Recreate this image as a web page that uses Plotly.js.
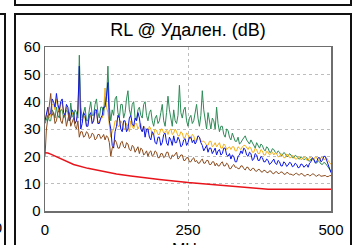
<!DOCTYPE html>
<html>
<head>
<meta charset="utf-8">
<script src="https://cdn.plot.ly/plotly-3.0.1.min.js"></script>
<style>
html,body{margin:0;padding:0;background:#fff;width:355px;height:245px;overflow:hidden;}
#chart{position:absolute;left:0;top:0;width:355px;height:245px;}
.frame{position:absolute;box-sizing:border-box;border:2px solid #111;pointer-events:none;z-index:5;}
</style>
</head>
<body>
<div id="chart"></div>
<div class="frame" style="left:-10px;top:13px;width:16px;height:300px;"></div>
<div class="frame" style="left:14px;top:-20px;width:338px;height:26px;"></div>
<div class="frame" style="left:14px;top:13px;width:338px;height:300px;"></div>
<script>
// Frequency sampling grid (MHz)
const freqStart = 0, freqStep = 2.5, freqCount = 201;
const freq = Array.from({length: freqCount}, (_, i) => freqStart + i * freqStep);

const limitFreq = [0, 5, 10, 20, 35, 50, 75, 100, 125, 150, 175, 200, 250, 300, 350, 390, 450, 500];
const limitRL   = [21.3, 21.2, 20.8, 19.8, 18.3, 17.0, 15.6, 14.5, 13.5, 12.8, 12.1, 11.5, 10.4, 9.5, 8.7, 8.0, 8.0, 8.0];

const brown = [
  20,30,34,38,43,35,36,32,33,36,
  37,33,32,35,35,31,33,36,31,33,
  34,31,30,33,27,29,29,27,27.5,29,
  28.5,26.5,27,28.5,28,26,26.5,28,28,26.5,
  27,28,26,27.5,27,25,20,23,24,26,
  25,23,23,25,25.5,23.5,23,25,24.5,22.5,
  22,24,23.5,21.5,22.5,23.5,21,23,22.5,20.5,
  21,22,20,21.5,22,20,20.5,22,21.5,19.5,
  19.5,21,21,19.5,20,21.5,21.5,19.5,19,20.5,
  20,21,21.5,19,19.5,20.5,20.5,18.5,18.5,19.5,
  19.5,18,18,19,19.5,18,18.5,17.5,17.5,18.5,
  19,17.5,17.5,18.5,18.5,17,17,18,18,16.5,
  17.5,16.5,16.5,17.5,18,16.5,16.5,17.5,17,15.5,
  15.5,16.5,17,16,16,15.5,15.5,16.5,16.5,15.5,
  15,16,16,15,14.8,15.6,15.6,14.7,14.5,15.2,
  15.2,14.4,14.2,14.9,14.8,14.1,14,14.7,14.6,13.8,
  13.6,14.3,14.4,13.7,13.8,14.3,14.2,13.5,13.4,14.1,
  14,13.4,13.5,13.2,13.1,13.7,13.8,13.3,13.2,13.7,
  13.6,12.9,12.8,13.3,13.4,12.9,13,13.6,13.5,12.9,
  12.7,13.2,13.2,12.7,12.8,13.1,13,12.6,12.6,12.9,
  13];

const blue = [
  33,36,38,35,36,41,40,38,43,39,
  37,40,41,36,35,39,38,33,34,37,
  36,32,33,37,53,30,32,36,35,31,
  31,35,36,32,33,37,37,32,32,34,
  35,38,38,42,47,33,30,24,23,29,
  31,35,34,30,29,33,33,29,30,34,
  35,32,31,34,33,36,34,30,29,31,
  27,30,30,27,26,29,28,25,24.5,27,
  27,24,25,28,28.5,25,24,27,26,24,
  27.5,25,25,27,26,23.5,24,26,26.5,24,
  25,27,27,25,26,24.5,25.5,27.5,27,25,
  24,22,23,24,21.5,23,23,21,22,23,
  20.5,22,22.5,20.5,21,23,23,20.5,20,21,
  19,20.5,20,18,18,20,20.5,22,21,23,
  22.5,20.5,20,21.5,21,18.5,19,21,20.5,18.5,
  18.5,20,19.5,18,18,19,18.5,17,17.5,18.5,
  19,17.5,17,18.5,18,16.5,16.5,18,17.5,16.3,
  16.8,17.8,17.5,16.2,16.5,17.5,17,15.8,16,17.2,
  17,16,16.5,17,16,17.5,18,19.5,19,17.5,
  18,19.5,19.5,18,18.5,20,20,18.5,17,16,
  14];

const orange = [
  33,35,37,34,35,39,39,37,41,38,
  36,39,40,35,35,38,37,33,34,36,
  35,32,33,36,50,34,33,35,34,31,
  32,34,35,32,33,36,36,32,33,34,
  34,37,45,38,36,30,27,29,30,33,
  33,31,31,33,32,30,30,32,31,29,
  33,31,30,32,32,30,31,32,29,31,
  30.5,29,29,31,30,28,28,30,29.5,28,
  28,30,30,28.5,29,29.5,28,29.5,30,28,
  28.5,30,29,27.5,27.5,29,28.5,26.5,27,28.5,
  28,26.5,26.5,28,27.5,25.5,26,27.5,27,25.5,
  25.5,25.5,25,24,24,25.5,25.5,23.5,24,25,
  23.5,24.5,25,23,23,24.5,24,22.5,23,23.5,
  22.5,23.5,23.5,22,22,23.5,23,22.5,23.5,24,
  24,23,22.5,23.5,23,21.5,21.5,23,22.5,21,
  21,22.5,22,20.5,20.5,21.8,21.5,20.5,21,21.5,
  20.5,21.3,21,19.8,20,21,20.5,19.5,19.5,20.8,
  20.5,19.5,19.5,20.3,20,19,19,19.8,19.5,18.8,
  19,19.8,19.5,18.6,18.5,19.6,19.5,18.7,19,19.8,
  19.5,18.6,18.5,19.6,19.5,18.8,19,19.4,18.5,17.8,
  17];

const green = [
  32,34,35,33,33,37,36,34,38,35,
  34,37,37,34,35,37,36,33,39.5,35,
  34,37,36,34,57,38,34,36,38,33,
  33,37,40,35,35,39,41,36,34,38,
  38,35,42,40,53,38,33,37,35,41,
  42,36,34,39,39,34,36,41,44,37,
  35,39,40,34,33,37,38,35,34,39,
  40,35,33,36,37,33,31,34,35,32,
  33,36,39,33,31,36,42,37,34,31,
  37,33,32,35,46,36,34,37,38,33,
  31,34,35,32,33,37,39,34,31,35,
  44,37,33,30,36,32,30,34,33,30,
  38,32,29,31,31,28,27,30,29.5,27,
  26,28.5,27,25.5,25.5,27,24.5,25,26,27,
  27.5,26,25,24.5,26,25,24,23,25,24,
  23,24.5,24,22.5,22,23.5,23,21.5,21.5,22.8,
  22.5,21.5,21,22,21.5,20.3,20.5,21.4,21,20,
  20,21,20.5,19.5,19.5,20.4,20,19.2,19,19.9,
  19.5,18.8,19,19.6,18.5,18.2,19,19.2,18.5,18,
  17.5,18.4,18,17.2,17,17.8,17.5,16.8,16,15.2,
  14.5];

const xTitle = 'MHz';
const font = 'Arial, "Liberation Sans", sans-serif';
const mk = (y, color, w) => ({x: freq, y: y, type: 'scatter', mode: 'lines',
  line: {color: color, width: w || 1}, hoverinfo: 'skip'});

const data = [
  {x: limitFreq, y: limitRL, type: 'scatter', mode: 'lines', line: {color: '#e8141b', width: 1.5}},
  mk(green, '#2e8b57'),
  mk(orange, '#f5b014'),
  mk(blue, '#0a14e6'),
  mk(brown, '#8b4a1c')
];

const layout = {
  width: 355, height: 245,
  margin: {l: 45, r: 24, t: 47, b: 34, pad: 0},
  paper_bgcolor: '#fff', plot_bgcolor: '#fff',
  showlegend: false,
  font: {family: font, size: 15, color: '#000'},
  title: {text: 'RL @ Удален. (dB)', font: {family: font, size: 18, color: '#000'},
          x: 0.5, xref: 'paper', xanchor: 'center', y: 1 - 30/245, yref: 'container', yanchor: 'middle'},
  xaxis: {range: [0, 500], tickvals: [0, 250, 500], ticktext: ['0', '250', '500'],
          showgrid: true, gridcolor: '#bdbdbd', griddash: 'dot', gridwidth: 1,
          zeroline: false, showline: true, linecolor: '#6e6e6e', linewidth: 1.5, mirror: true,
          ticks: '', ticklabelstandoff: 4, tickfont: {family: font, size: 15, color: '#000'}},
  yaxis: {range: [0, 60], tickvals: [0, 10, 20, 30, 40, 50, 60],
          showgrid: true, gridcolor: '#bdbdbd', griddash: 'dot', gridwidth: 1,
          zeroline: false, showline: true, linecolor: '#6e6e6e', linewidth: 1.5, mirror: true,
          ticks: '', tickfont: {family: font, size: 15, color: '#000'}},
  annotations: [
    {text: '500', xref: 'paper', yref: 'paper', x: (3.5 - 45) / 286, y: (211 - 227) / 164,
     xanchor: 'right', yanchor: 'middle', showarrow: false,
     font: {family: font, size: 15, color: '#000'}},
    {text: xTitle, xref: 'paper', yref: 'paper', x: 0.5, y: (211 - 238.5) / 164,
     xanchor: 'center', yanchor: 'top', showarrow: false,
     font: {family: font, size: 16, color: '#000'}}
  ]
};

Plotly.newPlot('chart', data, layout, {staticPlot: true, displayModeBar: false});
</script>
</body>
</html>
